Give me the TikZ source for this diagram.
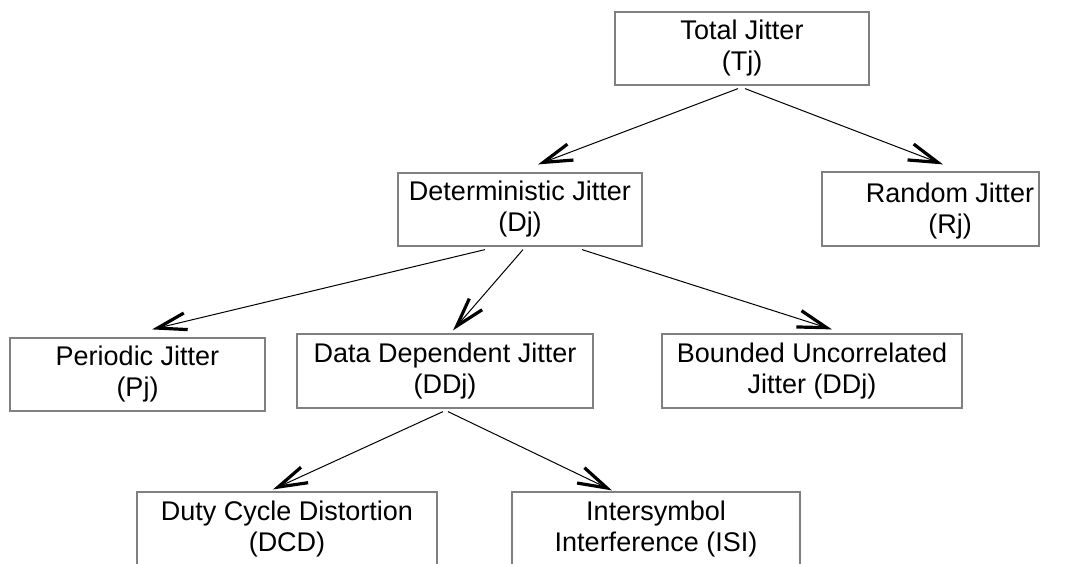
\documentclass[tikz,border=0pt]{standalone}
\usepackage{fontspec}
\setmainfont{Liberation Sans}
\usetikzlibrary{
    positioning, % posicionamento relativo
    arrows.meta  % pontas de seta (Straight Barb)
}

\begin{document}
\begin{tikzpicture}[x=1pt, y=-1pt]

    % --- Estilos ---
    \tikzset{
        box/.style={draw=black!50, line width=1.2pt, minimum height=73pt,
                    inner sep=0pt, align=center,
                    font=\fontsize{27}{31}\selectfont},
        frame/.style={draw=black!50, line width=1.2pt, minimum height=74pt, inner sep=0pt},
        box_text/.style={align=center, inner sep=0pt, font=\fontsize{27}{31}\selectfont},
        link/.style={-{Straight Barb[length=29pt, width=17pt, line width=3.2pt]},
                     line width=1pt, black}
    }

    \useasboundingbox (0,0) rectangle (1067,563);
    \clip (0,0) rectangle (1067,563);

    % --- Nivel 0 ---
    \node[box, minimum width=254pt] (tj) at (742,48.5) {Total Jitter\\(Tj)};

    % --- Nivel 1 ---
    \node[box, minimum width=244pt] (dj) at (520,209.5) {Deterministic Jitter\\(Dj)};
    \node[frame, minimum width=217pt] (rj) at (930.5,209) {};
    \node[box_text] (rj_text) at (950,211) {Random Jitter\\(Rj)};

    % --- Nivel 2 ---
    \node[box, minimum width=255pt] (pj) at (137.5,374.5) {Periodic Jitter\\(Pj)};
    \node[box, minimum width=296pt, minimum height=74pt] (ddj) at (445,371) {Data Dependent Jitter\\(DDj)};
    \node[box, minimum width=300pt, minimum height=74pt] (buj) at (812,371) {Bounded Uncorrelated\\Jitter (DDj)};

    % --- Nivel 3 (cortado embaixo) ---
    \node[box, minimum width=300pt, minimum height=74pt] (dcd) at (287,529) {Duty Cycle Distortion\\(DCD)};
    \node[box, minimum width=288pt, minimum height=74pt] (isi) at (656,529) {Intersymbol\\Interference (ISI)};

    % --- Setas ---
    \draw[link] ([xshift=-4pt, yshift=-3pt]tj.south) -- ([xshift=18pt, yshift=8pt]dj.north);
    \draw[link] ([xshift=3pt, yshift=-3pt]tj.south) -- ([xshift=12.5pt, yshift=7pt]rj.north);

    \draw[link] ([xshift=-35pt, yshift=-3pt]dj.south) -- ([xshift=14.5pt, yshift=8pt]pj.north);
    \draw[link] ([xshift=3pt, yshift=-3pt]dj.south) -- ([xshift=8pt, yshift=3pt]ddj.north);
    \draw[link] ([xshift=62pt, yshift=-3pt]dj.south) -- ([xshift=20pt, yshift=4pt]buj.north);

    \draw[link] ([xshift=-2pt, yshift=-3pt]ddj.south) -- ([xshift=-14pt, yshift=2pt]dcd.north);
    \draw[link] ([xshift=3pt, yshift=-3pt]ddj.south) -- ([xshift=-44pt, yshift=1pt]isi.north);

\end{tikzpicture}
\end{document}
